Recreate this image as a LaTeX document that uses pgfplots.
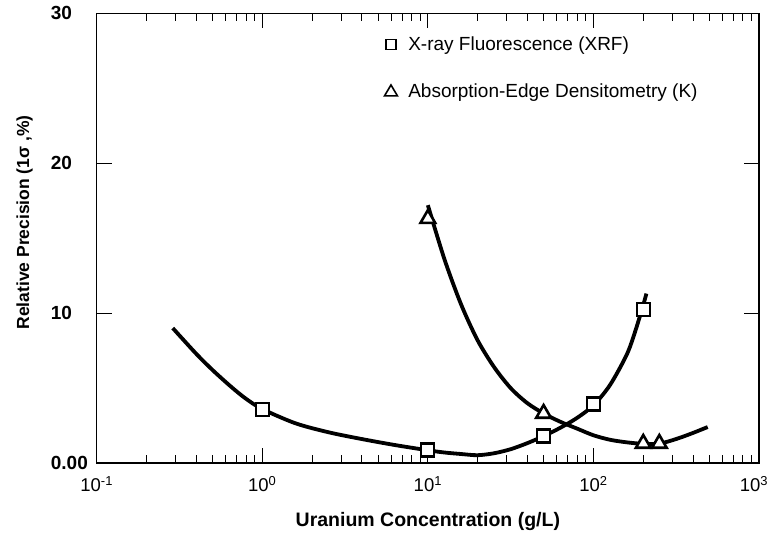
\documentclass[border=0pt]{standalone}
\usepackage{fontspec}
\setmainfont{Liberation Sans}
\usepackage{pgfplots}
\pgfplotsset{compat=1.18}
\begin{document}
\begin{tikzpicture}[x=1bp,y=1bp]
\useasboundingbox (0,0) rectangle (771,535);
\begin{axis}[
  at={(96.7bp,72bp)}, anchor=south west,
  scale only axis, width=662.3bp, height=449.7bp,
  xmode=log, log basis x=10,
  xmin=0.1, xmax=1000, ymin=0, ymax=30,
  xtick={0.1,1,10,100,1000},
  xticklabels={10\textsuperscript{-1},10\textsuperscript{0},10\textsuperscript{1},10\textsuperscript{2},10\textsuperscript{3}\hspace*{10bp}},
  minor xtick={0.2,0.3,0.4,0.5,0.6,0.7,0.8,0.9,2,3,4,5,6,7,8,9,20,30,40,50,60,70,80,90,200,300,400,500,600,700,800,900},
  ytick={0,10,20,30}, yticklabels={0.00,10,20,30},
  tick align=inside,
  major tick length=15bp, minor tick length=8bp,
  every tick/.style={black, line width=1bp},
  axis line style={line width=1.4bp},
  yticklabel style={anchor=west, inner sep=0pt, xshift=-46bp, font=\fontsize{19bp}{22bp}\selectfont\bfseries},
  xticklabel style={anchor=north, inner sep=0pt, yshift=-13bp, font=\fontsize{18.5bp}{22bp}\selectfont},
  xlabel={Uranium Concentration (g/L)},
  ylabel={Relative Precision (1σ ,\%)},
  every axis x label/.style={at={(axis description cs:0.5,-0.1423)}, anchor=base, inner sep=0pt, font=\fontsize{19.5bp}{22bp}\selectfont\bfseries},
  every axis y label/.style={at={(axis description cs:-0.0962,0.5348)}, rotate=90, anchor=south, inner sep=0pt, font=\fontsize{17.5bp}{20bp}\selectfont\bfseries},
  legend style={at={(0.433,0.952)}, anchor=north west, draw=none, fill=none, row sep=27bp, font=\fontsize{19bp}{22bp}\selectfont, inner sep=0pt, column sep=8bp},
  legend cell align=left,
]
% fitted curves
\addplot[black, line width=3.8bp, smooth, tension=0.5, forget plot] coordinates {
  (0.288,9.0) (0.398,7.3) (0.501,6.2) (0.646,5.1) (0.794,4.3) (1,3.6) (1.585,2.65) (2.512,2.05)
  (3.981,1.6) (6.31,1.2) (10,0.85) (12.59,0.7) (15.85,0.6) (19.95,0.52) (25.12,0.65) (31.62,0.92)
  (39.81,1.32) (50.12,1.8) (63.1,2.35) (79.43,3.0) (100,3.85) (125.9,5.2) (158.5,7.2) (177.8,8.7)
  (199.5,10.5) (208.9,11.3)
};
\addplot[black, line width=3.8bp, smooth, tension=0.5, forget plot] coordinates {
  (10,17.2) (12.59,13.6) (15.85,10.6) (19.95,8.2) (25.12,6.4) (31.62,5.0) (39.81,4.0) (50.12,3.3)
  (63.1,2.75) (79.43,2.3) (100,1.85) (125.9,1.55) (158.5,1.38) (199.5,1.28) (251.2,1.3)
  (316.2,1.6) (398.1,2.0) (489.8,2.4)
};
% data points
\addplot[only marks, mark=square*, mark size=6.5bp, mark options={draw=black, fill=white, line width=2.2bp},
  legend image code/.code={\draw[black, fill=white, line width=1.6bp] (-5bp,-5bp) rectangle (5bp,5bp);}]
  coordinates {(1,3.58) (10,0.87) (50,1.8) (100,3.93) (200,10.25)};
\addlegendentry{X-ray Fluorescence (XRF)}
\addplot[only marks, mark=triangle*, mark size=8.5bp, mark options={draw=black, fill=white, line width=2.6bp},
  legend image code/.code={\draw[black, fill=white, line width=1.6bp] (-6.5bp,-5bp) -- (6.5bp,-5bp) -- (0bp,6bp) -- cycle;}]
  coordinates {(10,16.3) (50,3.3) (200,1.3) (250,1.3)};
\addlegendentry{Absorption-Edge Densitometry (K)}
\end{axis}
\end{tikzpicture}
\end{document}
